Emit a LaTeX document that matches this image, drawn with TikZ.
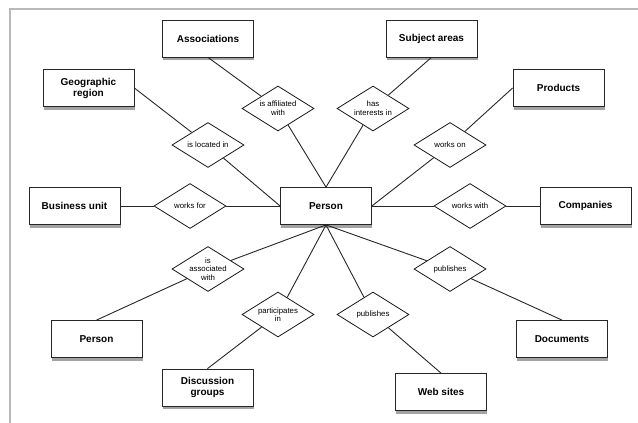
\documentclass[tikz,border=0pt]{standalone}
\usepackage{fontspec}
\setmainfont{Liberation Sans}
\usetikzlibrary{shapes.geometric,shadows}

\begin{document}
\begin{tikzpicture}[x=1pt, y=-1pt,
    entity/.style={draw=black!85, line width=0.8pt, fill=white, minimum width=91pt, minimum height=37pt,
        align=center, font=\fontsize{10}{11}\selectfont\bfseries,
        drop shadow={shadow xshift=0.8pt, shadow yshift=-3pt, fill=black!60, opacity=0.6}},
    relation/.style={draw=black!90, line width=0.8pt, fill=white, shape=diamond, aspect=1.6, inner sep=-2pt,
        minimum width=72pt, minimum height=45pt, align=center, font=\fontsize{7.8}{8.6}\selectfont},
    link/.style={line width=0.9pt, black!85}]
    \useasboundingbox (0,0) rectangle (638,423);

    % Frame
    \draw[black!28, line width=2pt] (9.5,423) -- (9.5,9) -- (638,9);

    % Entities
    \node[entity] (person) at (326,206) {Person};
    \node[entity] (assoc) at (208,38.5) {Associations};
    \node[entity] (subject) at (431.5,38.5) {Subject areas};
    \node[entity] (geo) at (88.5,88) {Geographic\\region};
    \node[entity] (products) at (558.5,88) {Products};
    \node[entity] (business) at (74.5,206) {Business unit};
    \node[entity] (companies) at (585.5,206) {Companies};
    \node[entity] (other) at (96.5,339) {Person};
    \node[entity] (groups) at (207.5,387.5) {Discussion\\groups};
    \node[entity] (websites) at (441,392) {Web sites};
    \node[entity] (documents) at (562,339) {Documents};

    % Relations
    \node[relation] (affiliated) at (278,108.5) {is affiliated\\with};
    \node[relation] (interests) at (373,108.5) {has\\interests in};
    \node[relation] (located) at (208,145) {is located in};
    \node[relation] (workson) at (450,145) {works on};
    \node[relation] (worksfor) at (190,206) {works for};
    \node[relation] (workswith) at (470,206) {works with};
    \node[relation] (associated) at (208,269) {is\\associated\\with};
    \node[relation] (pubdocs) at (450,269) {publishes};
    \node[relation] (participates) at (278,314.5) {participates\\in};
    \node[relation] (pubweb) at (373,314.5) {publishes};

    % Links
    \draw[link] (assoc.south) -- (affiliated) -- (person.north);
    \draw[link] (subject.south) -- (interests) -- (person.north);
    \draw[link] (geo.east) -- (located) -- (person.west);
    \draw[link] (products.west) -- (workson) -- (person.east);
    \draw[link] (business.east) -- (worksfor) -- (person.west);
    \draw[link] (companies.west) -- (workswith) -- (person.east);
    \draw[link] (other.north) -- (associated) -- (person.south);
    \draw[link] (groups.north) -- (participates) -- (person.south);
    \draw[link] (websites.north) -- (pubweb) -- (person.south);
    \draw[link] (documents.north) -- (pubdocs) -- (person.south);
\end{tikzpicture}
\end{document}
